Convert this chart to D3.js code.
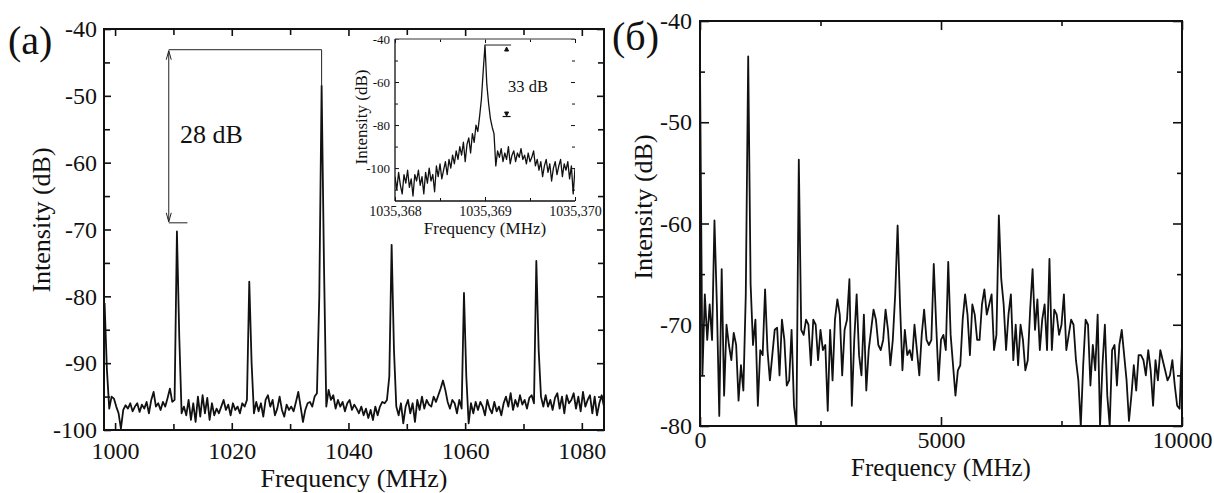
<!DOCTYPE html>
<html>
<head>
<meta charset="utf-8">
<script src="https://cdn.jsdelivr.net/npm/d3@7"></script>
<style>
  body { margin: 0; background: #fff; }
  text { font-family: "Liberation Serif", "Times New Roman", serif; fill: #111; }
</style>
</head>
<body>
<div id="chart"></div>
<script>
// ---- data ----

// panel (a): spectrum around 1 GHz, sampled every 0.4 MHz from 998.2 MHz
const freqA_start = 998.2;
const freqA_step = 0.4;
const intensityA = [
  -81, -91, -96.8, -95.0, -95.3, -96.5, -97.5, -99.8, -97.0, -96.3,
  -96.8, -96.0, -97.2, -96.5, -96.0, -97.3, -96.2, -96.8, -95.8, -97.5,
  -95.5, -94.3, -96.5, -96.0, -97.0, -95.8, -96.5, -95.2, -93.8, -95.8,
  -95.5, -70.3, -86.0, -97.5, -96.5, -97.8, -95.5, -98.5, -96.0, -98.8,
  -95.0, -98.0, -94.8, -97.5, -95.2, -98.5, -96.0, -97.8, -96.8, -97.5,
  -96.5, -95.5, -97.0, -96.2, -97.8, -96.0, -97.0, -96.5, -97.5, -96.0,
  -96.5, -95.5, -77.8, -90.0, -97.5, -95.8, -97.2, -96.0, -98.0, -95.5,
  -94.8, -96.5, -95.5, -97.8, -96.8, -95.0, -97.0, -98.0, -96.2, -97.0,
  -96.5, -97.2, -95.8, -94.3, -96.5, -98.8, -97.0, -96.0, -95.8, -96.5,
  -95.0, -94.5, -80.0, -48.5, -75.0, -96.5, -94.0, -95.5, -94.8, -96.8,
  -95.5, -96.5, -95.8, -97.2, -96.0, -95.5, -97.0, -96.2, -96.8, -97.5,
  -96.5, -97.8, -96.8, -98.2, -97.0, -98.5, -96.5, -97.8, -96.5, -95.8,
  -96.0, -95.5, -92.0, -72.3, -88.0, -96.5, -97.8, -96.0, -99.0, -96.5,
  -95.5, -97.5, -96.0, -98.8, -95.5, -97.0, -95.0, -96.8, -95.5, -96.2,
  -96.5, -95.0, -95.8, -94.8, -93.8, -92.6, -94.0, -95.8, -96.8, -95.5,
  -96.0, -97.5, -95.5, -96.8, -79.5, -92.0, -99.0, -96.0, -97.5, -95.8,
  -97.0, -95.8, -96.5, -97.8, -95.5, -96.8, -97.5, -95.8, -97.2, -96.5,
  -97.8, -96.0, -95.0, -96.5, -94.5, -97.0, -95.5, -96.5, -94.8, -96.2,
  -95.5, -96.8, -95.2, -94.8, -96.0, -74.7, -88.0, -95.0, -96.5, -94.8,
  -96.5, -95.5, -97.0, -95.2, -94.5, -96.8, -95.0, -97.5, -94.8, -96.0,
  -95.5, -94.5, -96.8, -95.0, -97.2, -94.3, -96.5, -95.5, -94.8, -97.5,
  -95.0, -97.8, -96.0, -94.8, -96.5
];
const ticksA_x = [1000, 1020, 1040, 1060, 1080];
const minorA_x = [1010, 1030, 1050, 1070];
const ticksA_y = [-40, -50, -60, -70, -80, -90, -100];
const minorA_y = [-45, -55, -65, -75, -85, -95];

// the "28 dB" marker
const markA = { arrowFreq: 1009.2, peakFreq: 1035.4, peakTop: -48.5, top: -43.1, bottom: -69.0, barEnd: 1012.4 };

// inset: zoom on the 1035.369 MHz line, sampled every 0.00002 MHz
const freqIn_start = 1035.368;
const freqIn_step = 0.00002;
const intensityIn = [
  -104, -110, -102, -108, -112, -103, -107, -101, -109, -105,
  -113, -103, -106, -101, -108, -104, -112, -102, -107, -100,
  -106, -103, -111, -99, -104, -98, -105, -101, -97, -103,
  -96, -100, -94, -98, -92, -96, -90, -94, -88, -97,
  -89, -86, -93, -84, -88, -80, -83, -76, -68, -55,
  -42.8,
  -61, -70, -77, -81, -84, -99, -92, -95, -91,
  -97, -93, -96, -90, -98, -94, -92, -97, -93, -95,
  -91, -96, -94, -98, -93, -97, -95, -92, -99, -96,
  -101, -97, -104, -99, -96, -102, -98, -106, -100, -97,
  -103, -99, -96, -104, -98, -101, -97, -105, -99, -112, -100
];
const ticksIn_x = [1035.368, 1035.369, 1035.370];
const minorIn_x = [1035.3685, 1035.3695];
const ticksIn_y = [-40, -60, -80, -100];
const minorIn_y = [-50, -70, -90, -110];
const markIn = { peakFreq: 1035.369, barEnd: 1035.36929, arrowFreq: 1035.36924, top: -42.8, bottom: -75.8 };

// panel (б): wide span 0..10000 MHz, sampled every 50 MHz
const freqB_step = 50;
const intensityB = [
  -44.5, -75, -67, -71.5, -68, -71.5, -59.7, -68, -79, -64.5,
  -77, -70, -72, -73.5, -70.8, -72, -77.5, -74, -76.5, -67,
  -43.5, -66, -72, -69.5, -78, -72.5, -73, -66.5, -72.5, -75.5,
  -73, -70.5, -70.3, -75, -69.5, -71.5, -76, -75.5, -70.5, -78,
  -80.1, -53.7, -70.5, -71, -69.5, -70, -74, -69.5, -70, -73.5,
  -70.5, -72.5, -72, -78.5, -70.5, -75.5, -69.5, -67.5, -69, -75,
  -70.5, -69.5, -65.5, -78, -71.5, -67, -73, -75, -69, -76.5,
  -72.5, -70.5, -68.5, -69.5, -72, -72.5, -71.5, -68.5, -70.5, -74,
  -71.5, -67, -60.2, -68, -74.5, -70.5, -73, -72.5, -73.5, -70,
  -72.5, -75, -71, -68.5, -71.5, -72, -71.5, -64, -70, -75.5,
  -71.5, -71, -72.5, -63.8, -71, -74, -77, -74.5, -74, -69.5,
  -67, -69, -73, -68, -69, -71.5, -71.5, -68, -66.5, -69,
  -68, -67, -72.5, -71, -59.2, -65.5, -68, -72.5, -69, -67,
  -73.5, -70, -74, -70, -71.5, -74.5, -73.5, -68.5, -64.5, -70.5,
  -67.5, -72.5, -69.5, -68, -72.5, -63.5, -72.5, -68.5, -69, -71,
  -70, -67, -72.5, -71, -69.5, -70, -73.5, -75.5, -80, -74,
  -69.5, -70, -76, -72, -74.5, -69, -80, -74, -70, -77,
  -80, -72.5, -72, -76, -72, -70.5, -73, -75.5, -79.5, -77,
  -74, -76.5, -73, -73, -73.5, -75, -72.5, -74.5, -78, -73.5,
  -75.5, -72.5, -73.5, -74.5, -75.5, -75, -73.5, -76, -78, -78.3,
  -72
];
const ticksB_x = [0, 5000, 10000];
const minorB_x = [2500, 7500];
const ticksB_y = [-40, -50, -60, -70, -80];
const minorB_y = [-45, -55, -65, -75];

// ---- drawing ----
const width = 1214, height = 493;

const svg = d3.select("#chart")
  .append("svg")
  .attr("width", width)
  .attr("height", height)
  .style("background", "#fff");

const fmt = d => String(d);
const fmtComma = d => d.toFixed(3).replace(".", ",");

// draws inward ticks on all four sides of a box; labels only bottom and left
function drawTicks(g, x, y, o) {
  const [x0, x1] = x.range();
  const [y0, y1] = y.range(); // y0 = bottom
  g.append("g").attr("transform", `translate(0,${y0})`)
    .call(d3.axisBottom(x).tickValues(o.xMajor).tickSize(-o.major).tickPadding(o.xPad).tickFormat(o.xFmt))
    .call(a => a.selectAll("text").attr("font-size", o.font).attr("font-family", "Liberation Serif"));
  g.append("g").attr("transform", `translate(0,${y0})`)
    .call(d3.axisBottom(x).tickValues(o.xMinor).tickSize(-o.minor).tickFormat(""));
  g.append("g").attr("transform", `translate(${x0},0)`)
    .call(d3.axisLeft(y).tickValues(o.yMajor).tickSize(-o.major).tickPadding(o.yPad).tickFormat(fmt))
    .call(a => a.selectAll("text").attr("font-size", o.yFont || o.font).attr("font-family", "Liberation Serif"));
  g.append("g").attr("transform", `translate(${x0},0)`)
    .call(d3.axisLeft(y).tickValues(o.yMinor).tickSize(-o.minor).tickFormat(""));
  if (o.top) {
    g.append("g").attr("transform", `translate(0,${y1})`)
      .call(d3.axisTop(x).tickValues(o.xMajor).tickSize(-o.major).tickFormat(""));
    g.append("g").attr("transform", `translate(0,${y1})`)
      .call(d3.axisTop(x).tickValues(o.xMinor).tickSize(-o.minor).tickFormat(""));
  }
  g.append("g").attr("transform", `translate(${x1},0)`)
    .call(d3.axisRight(y).tickValues(o.yMajor).tickSize(-o.major).tickFormat(""));
  g.append("g").attr("transform", `translate(${x1},0)`)
    .call(d3.axisRight(y).tickValues(o.yMinor).tickSize(-o.minor).tickFormat(""));
  g.selectAll(".domain").remove();
  g.selectAll(".tick line").attr("stroke", "#111").attr("stroke-width", o.tickWidth);
  g.selectAll(".tick text").attr("fill", "#111");
}

// ===== panel (a) =====
const xA = d3.scaleLinear().domain([998.1, 1083.8]).range([104, 604]);
const yA = d3.scaleLinear().domain([-100, -40]).range([430, 29]);

const gA = svg.append("g");
svg.append("clipPath").attr("id", "clipA")
  .append("rect").attr("x", 104).attr("y", 29).attr("width", 500).attr("height", 401);

const lineA = d3.line()
  .x((d, i) => xA(freqA_start + i * freqA_step))
  .y(d => yA(d));

gA.append("path")
  .datum(intensityA)
  .attr("clip-path", "url(#clipA)")
  .attr("fill", "none")
  .attr("stroke", "#111")
  .attr("stroke-width", 1.8)
  .attr("stroke-linejoin", "round")
  .attr("d", lineA);

drawTicks(gA, xA, yA, {
  xMajor: ticksA_x, xMinor: minorA_x, yMajor: ticksA_y, yMinor: minorA_y,
  major: 7, minor: 6, xPad: 12, yPad: 7, font: 24, xFmt: fmt, top: true, tickWidth: 1.6
});

gA.append("rect")
  .attr("x", 104).attr("y", 29).attr("width", 500).attr("height", 401)
  .attr("fill", "none").attr("stroke", "#111").attr("stroke-width", 2);

// 28 dB marker
const mk = gA.append("g").attr("stroke", "#222").attr("stroke-width", 1).attr("fill", "none");
mk.append("line")
  .attr("x1", xA(markA.arrowFreq)).attr("x2", xA(markA.peakFreq))
  .attr("y1", yA(markA.top)).attr("y2", yA(markA.top));
mk.append("line")
  .attr("x1", xA(markA.peakFreq)).attr("x2", xA(markA.peakFreq))
  .attr("y1", yA(markA.top)).attr("y2", yA(markA.peakTop));
mk.append("line")
  .attr("x1", xA(markA.arrowFreq)).attr("x2", xA(markA.barEnd))
  .attr("y1", yA(markA.bottom)).attr("y2", yA(markA.bottom));
mk.append("line")
  .attr("x1", xA(markA.arrowFreq)).attr("x2", xA(markA.arrowFreq))
  .attr("y1", yA(markA.top) + 1).attr("y2", yA(markA.bottom) - 1);
{
  const ax = xA(markA.arrowFreq), yt = yA(markA.top) + 1, yb = yA(markA.bottom) - 1;
  mk.append("path").attr("d", `M${ax - 2.5},${yt + 9} L${ax},${yt} L${ax + 2.5},${yt + 9}`);
  mk.append("path").attr("d", `M${ax - 2.5},${yb - 9} L${ax},${yb} L${ax + 2.5},${yb - 9}`);
}
gA.append("text")
  .attr("x", 180).attr("y", 143)
  .attr("font-size", 26)
  .text("28 dB");

gA.append("text")
  .attr("x", 8).attr("y", 54)
  .attr("font-size", 40)
  .text("(a)");

gA.append("text")
  .attr("x", 354).attr("y", 487)
  .attr("text-anchor", "middle")
  .attr("font-size", 26)
  .text("Frequency (MHz)");

gA.append("text")
  .attr("transform", "translate(50,220) rotate(-90)")
  .attr("text-anchor", "middle")
  .attr("font-size", 26)
  .text("Intensity (dB)");

// ===== inset =====
const xI = d3.scaleLinear().domain([1035.368, 1035.370]).range([395, 575]);
const yI = d3.scaleLinear().domain([-115.3, -40]).range([201, 39]);
const gI = svg.append("g");

svg.append("clipPath").attr("id", "clipI")
  .append("rect").attr("x", 395).attr("y", 39).attr("width", 180).attr("height", 162);

gI.append("path")
  .datum(intensityIn)
  .attr("clip-path", "url(#clipI)")
  .attr("fill", "none")
  .attr("stroke", "#111")
  .attr("stroke-width", 1.3)
  .attr("stroke-linejoin", "round")
  .attr("d", d3.line()
    .x((d, i) => xI(freqIn_start + i * freqIn_step))
    .y(d => yI(d)));

drawTicks(gI, xI, yI, {
  xMajor: ticksIn_x, xMinor: minorIn_x, yMajor: ticksIn_y, yMinor: minorIn_y,
  major: 4, minor: 3, xPad: 5, yPad: 5, font: 14, yFont: 13, xFmt: fmtComma, top: true, tickWidth: 1
});

gI.append("line").attr("x1", 395).attr("x2", 575).attr("y1", 39).attr("y2", 39)
  .attr("stroke", "#777").attr("stroke-width", 1.3);
gI.append("line").attr("x1", 395).attr("x2", 395).attr("y1", 39).attr("y2", 201)
  .attr("stroke", "#111").attr("stroke-width", 1.3);
gI.append("line").attr("x1", 395).attr("x2", 575).attr("y1", 201).attr("y2", 201)
  .attr("stroke", "#111").attr("stroke-width", 1.3);

// 33 dB marker
{
  const m = gI.append("g");
  const yt = yI(markIn.top), yb = yI(markIn.bottom), ax = xI(markIn.arrowFreq);
  m.append("line")
    .attr("x1", xI(markIn.peakFreq)).attr("x2", xI(markIn.barEnd))
    .attr("y1", yt).attr("y2", yt)
    .attr("stroke", "#444").attr("stroke-width", 1.2);
  m.append("path").attr("d", `M${ax - 2},${yt + 6} L${ax},${yt + 2} L${ax + 2},${yt + 6} Z`)
    .attr("fill", "#111").attr("stroke", "#111").attr("stroke-width", 1);
  m.append("path").attr("d", `M${ax - 2},${yb - 4} L${ax},${yb} L${ax + 2},${yb - 4} Z`)
    .attr("fill", "#111").attr("stroke", "#111").attr("stroke-width", 1);
  m.append("line")
    .attr("x1", ax - 4).attr("x2", ax + 4)
    .attr("y1", yb + 0.5).attr("y2", yb + 0.5)
    .attr("stroke", "#111").attr("stroke-width", 1.2);
}
gI.append("text")
  .attr("x", 508).attr("y", 92)
  .attr("font-size", 16.5)
  .text("33 dB");

gI.append("text")
  .attr("x", 485).attr("y", 234)
  .attr("text-anchor", "middle")
  .attr("font-size", 17)
  .text("Frequency (MHz)");

gI.append("text")
  .attr("transform", "translate(367,117) rotate(-90)")
  .attr("text-anchor", "middle")
  .attr("font-size", 17)
  .text("Intensity (dB)");

// ===== panel (б) =====
const xB = d3.scaleLinear().domain([0, 10000]).range([700, 1182]);
const yB = d3.scaleLinear().domain([-80, -40]).range([426, 21]);
const gB = svg.append("g");

svg.append("clipPath").attr("id", "clipB")
  .append("rect").attr("x", 700).attr("y", 21).attr("width", 482).attr("height", 405);

gB.append("path")
  .datum(intensityB)
  .attr("clip-path", "url(#clipB)")
  .attr("fill", "none")
  .attr("stroke", "#111")
  .attr("stroke-width", 1.8)
  .attr("stroke-linejoin", "round")
  .attr("d", d3.line()
    .x((d, i) => xB(i * freqB_step))
    .y(d => yB(d)));

drawTicks(gB, xB, yB, {
  xMajor: ticksB_x, xMinor: minorB_x, yMajor: ticksB_y, yMinor: minorB_y,
  major: 9, minor: 5, xPad: 5, yPad: 8, font: 24, xFmt: fmt, top: true, tickWidth: 1.6
});

gB.append("rect")
  .attr("x", 700).attr("y", 21).attr("width", 482).attr("height", 405)
  .attr("fill", "none").attr("stroke", "#111").attr("stroke-width", 2);

gB.append("text")
  .attr("x", 612).attr("y", 50)
  .attr("font-size", 40)
  .text("(б)");

gB.append("text")
  .attr("x", 941).attr("y", 476)
  .attr("text-anchor", "middle")
  .attr("font-size", 25)
  .text("Frequency (MHz)");

gB.append("text")
  .attr("transform", "translate(652,207) rotate(-90)")
  .attr("text-anchor", "middle")
  .attr("font-size", 26)
  .text("Intensity (dB)");
</script>
</body>
</html>
